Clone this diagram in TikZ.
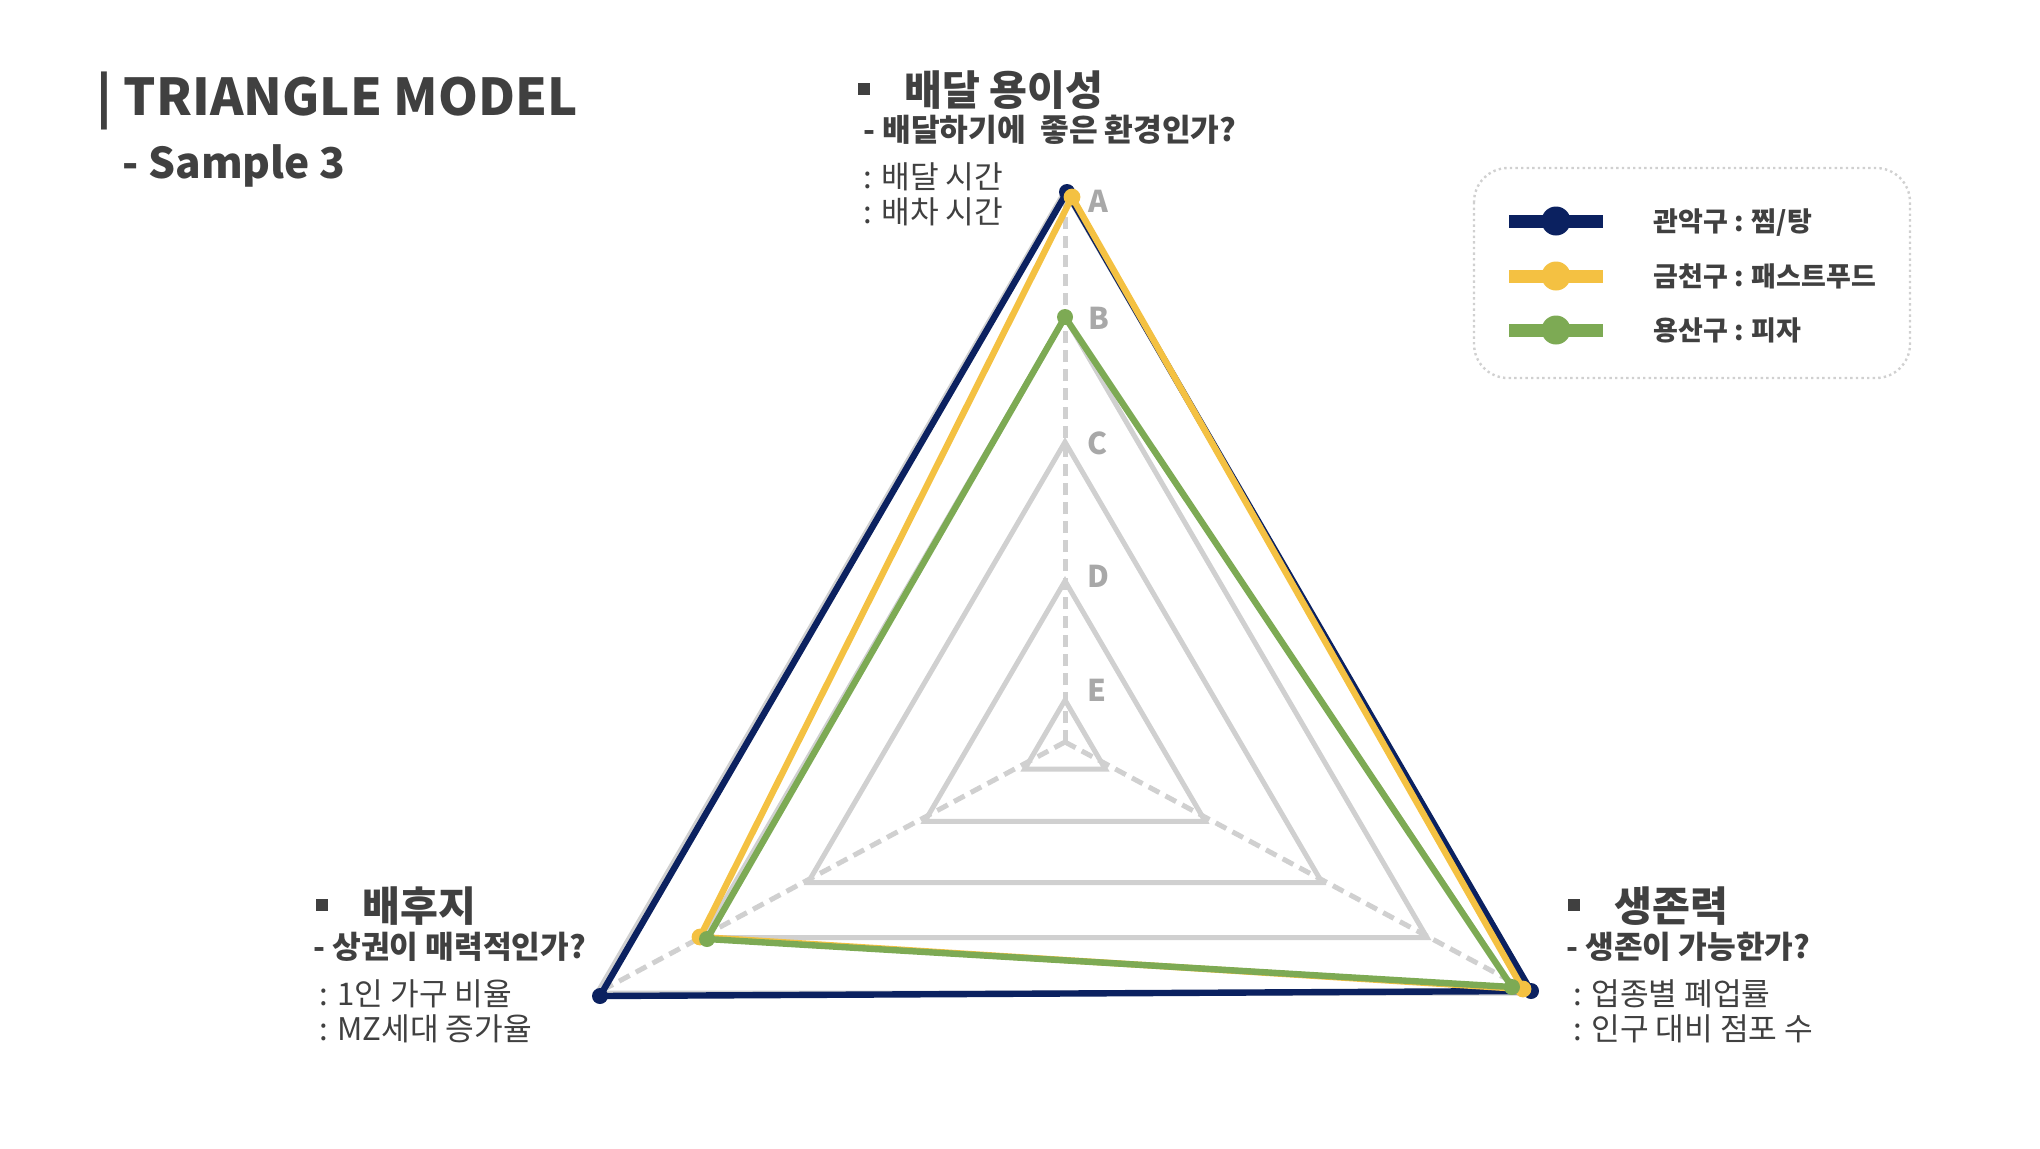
\documentclass[tikz,border=0pt]{standalone}
\usepackage{fontspec}
\setmainfont{Noto Sans CJK KR}
\usepackage{tikz}

\definecolor{navy}{HTML}{0B2160}
\definecolor{gold}{HTML}{F4C142}
\definecolor{leaf}{HTML}{7DAA54}
\definecolor{grid}{HTML}{D0D0D0}
\definecolor{ink}{HTML}{404040}
\definecolor{lvl}{HTML}{A8A8A8}

\newcommand{\sqbullet}{\rule[4.8pt]{6pt}{6pt}\hspace{17pt}}

\begin{document}
\begin{tikzpicture}[x=0.5pt,y=-0.5pt,
  gridline/.style={grid,line width=2.5pt},
  spoke/.style={grid,line width=2.5pt,dash pattern=on 6pt off 3.5pt},
  series/.style={line width=3.2pt,line join=round},
  level/.style={anchor=west,inner sep=0pt,text=lvl,font=\bfseries\fontsize{15}{15}\selectfont},
  head/.style={anchor=base west,inner sep=0pt,text=ink,font=\bfseries\fontsize{20.6}{20.6}\selectfont},
  ask/.style={anchor=base west,inner sep=0pt,text=ink,font=\bfseries\fontsize{15.6}{15.6}\selectfont},
  item/.style={anchor=base west,inner sep=0pt,text=ink,font=\fontsize{15.6}{15.6}\selectfont},
  key/.style={anchor=base west,inner sep=0pt,text=ink,font=\bfseries\fontsize{13.5}{13.5}\selectfont}]

\useasboundingbox (0,0) rectangle (2040,1148);

% title
\node[anchor=base west,inner sep=0pt,text=ink,font=\bfseries\fontsize{25.4}{25.4}\selectfont]
  (title) at (96,115) {| TRIANGLE MODEL};
\node[anchor=base west,inner sep=0pt,text=ink,font=\bfseries\fontsize{21.2}{21.2}\selectfont]
  (sample) at (122,178) {- Sample 3};

% grid triangles and spokes
\coordinate (O) at (1065,748);
\coordinate (hub) at (1065,742);
\foreach \r in {557,431,306,167,48}
  \draw[gridline] (O) ++(0,-\r) -- ++(0.84*\r,1.44*\r) -- ++(-1.68*\r,0) -- cycle;
\coordinate (topA) at (1065,191);
\coordinate (leftA) at (597,993);
\coordinate (rightA) at (1533,993);
\draw[spoke] (hub) -- (topA);
\draw[spoke] (hub) -- (leftA);
\draw[spoke] (hub) -- (rightA);

\node[level] (lA) at (1088,201) {A};
\node[level] (lB) at (1088,318) {B};
\node[level] (lC) at (1087,443) {C};
\node[level] (lD) at (1087,576) {D};
\node[level] (lE) at (1087,690) {E};

% series
\coordinate (n1) at (1067,192);
\coordinate (n2) at (1531,991);
\coordinate (n3) at (600,996);
\coordinate (g1) at (1072,197);
\coordinate (g2) at (1523,989);
\coordinate (g3) at (700,937);
\coordinate (y1) at (1065,317);
\coordinate (y2) at (1512,987);
\coordinate (y3) at (707,939);
\draw[series,navy] (n1) -- (n2) -- (n3) -- cycle;
\foreach \p in {n1,n2,n3} \fill[navy] (\p) circle (4pt);
\draw[series,gold] (g1) -- (g2) -- (g3) -- cycle;
\foreach \p in {g1,g2,g3} \fill[gold] (\p) circle (4.2pt);
\draw[series,leaf] (y1) -- (y2) -- (y3) -- cycle;
\foreach \p in {y1,y2,y3} \fill[leaf] (\p) circle (4pt);

% axis texts
\node[head] (h1) at (858,105) {\sqbullet 배달 용이성};
\node[ask] (q1) at (863,141) {- 배달하기에\ \ 좋은 환경인가?};
\node[item] (i1) at (863,188) {: 배달 시간};
\node[item] (i2) at (863,223) {: 배차 시간};

\node[head] (h2) at (316,921) {\sqbullet 배후지};
\node[ask] (q2) at (313,958) {- 상권이 매력적인가?};
\node[item] (i3) at (319,1005) {: 1인 가구 비율};
\node[item] (i4) at (319,1040) {: MZ세대 증가율};

\node[head] (h3) at (1568,921) {\sqbullet 생존력};
\node[ask] (q3) at (1566,958) {- 생존이 가능한가?};
\node[item] (i5) at (1573,1005) {: 업종별 폐업률};
\node[item] (i6) at (1573,1040) {: 인구 대비 점포 수};

% legend
\draw[grid,line width=1.2pt,dash pattern=on 1.2pt off 1.6pt,rounded corners=17pt]
  (1474,168) rectangle (1910,378);
\foreach \y/\c/\t in {221/navy/{관악구 : 찜/탕},276/gold/{금천구 : 패스트푸드},330/leaf/{용산구 : 피자}} {
  \draw[\c,line width=6.5pt] (1509,\y) -- (1603,\y);
  \fill[\c] (1556,\y) circle (7.25pt);
  \node[key] (key\c) at (1653,\y+10) {\t};
}
\end{tikzpicture}
\end{document}
